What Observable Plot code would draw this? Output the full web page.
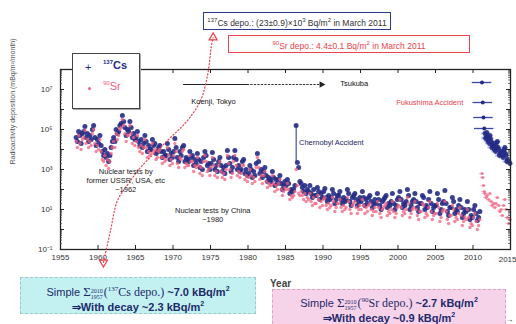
<!DOCTYPE html>
<html><head><meta charset="utf-8">
<script src="https://cdn.jsdelivr.net/npm/d3@7"></script>
<script src="https://cdn.jsdelivr.net/npm/@observablehq/plot@0.6"></script>
<style>
body{margin:0;background:#fff;}
#wrap{position:relative;width:516px;height:324px;overflow:hidden;font-family:Arial,"Liberation Sans",sans-serif;}
#wrap svg{position:absolute;left:0;top:0;}
.ov{position:absolute;box-sizing:border-box;white-space:nowrap;}
.lim{display:inline-block;font-size:6px;line-height:6px;vertical-align:-3px;margin-right:1px;font-family:"Liberation Serif",serif;text-align:left;}
.lim span{display:block;}
.sig{font-size:13px;line-height:13px;font-family:"Liberation Serif",serif;}
.ser{font-family:"Liberation Serif",serif;font-size:12px;}
.bold{font-weight:bold;}
.ln{height:15px;line-height:15px;}
</style></head><body><div id="wrap"></div><script>
// ---------- data (log10 of mBq/m2/month), bimonthly, 6 values per year ----------
const csStartYear = 1957;
const csLog = [
 [4.6,4.4,4.9,4.7,4.3,4.8],[4.9,5.15,4.6,4.8,4.4,4.7],[4.5,5.0,5.2,4.6,4.2,4.5],
 [4.3,4.7,4.2,3.9,3.7,4.0],[3.6,3.8,3.4,3.7,4.1,4.4],[4.6,4.4,5.0,4.8,4.9,5.2],
 [5.3,5.7,5.4,5.1,4.7,5.0],[4.9,5.4,5.1,4.6,4.8,4.5],[4.6,4.9,4.4,4.2,4.5,4.1],
 [4.3,4.7,4.4,3.9,4.2,4.0],[4.0,4.5,4.2,4.3,3.8,3.9],[4.1,4.2,3.9,3.6,3.9,3.7],
 [3.7,4.3,4.0,3.5,3.8,3.6],[3.9,4.55,4.1,3.6,3.4,3.9],[3.7,4.1,4.2,3.4,3.6,3.5],
 [3.4,3.9,3.6,3.7,3.2,3.5],[3.3,3.8,3.5,3.1,3.4,3.0],[3.6,3.9,3.7,3.2,3.3,3.0],
 [3.3,3.85,3.5,3.0,3.2,2.9],[3.4,3.6,3.2,2.9,3.1,2.8],[3.2,3.95,3.6,3.3,2.9,3.1],
 [3.6,3.95,3.5,3.0,3.2,2.9],[3.0,3.4,3.5,2.8,3.0,2.7],[2.8,3.2,3.0,2.6,2.9,2.7],
 [3.3,3.8,3.4,2.8,3.0,2.6],[2.9,3.1,2.7,2.4,2.6,2.5],[2.4,2.9,2.6,2.2,2.5,2.3],
 [2.5,2.7,2.3,2.0,2.2,2.4],[2.2,2.5,2.3,1.8,2.0,1.9],[2.0,2.2,5.2,3.35,3.1,2.4],
 [2.3,2.1,1.9,2.2,1.8,2.0],[1.9,2.2,1.8,1.6,2.0,1.7],[1.7,2.1,1.9,1.5,1.8,1.6],
 [1.9,2.05,1.6,1.4,1.7,1.5],[1.6,2.0,1.8,1.3,1.5,1.7],[1.7,1.9,1.5,1.3,1.6,1.4],
 [1.5,2.0,1.8,1.4,1.2,1.6],[1.7,1.8,1.5,1.2,1.4,1.6],[1.4,1.9,1.6,1.2,1.5,1.3],
 [1.6,1.7,1.4,1.1,1.3,1.5],[1.3,1.8,1.5,1.2,1.0,1.4],[1.5,1.6,1.7,1.1,1.3,1.2],
 [1.4,1.8,1.3,1.0,1.2,1.5],[1.6,1.9,1.5,1.1,1.3,1.2],[1.4,2.0,1.7,1.0,1.2,1.4],
 [1.5,1.8,1.4,1.1,0.9,1.3],[1.3,1.7,1.6,1.0,1.2,1.1],[1.5,1.9,1.3,0.9,1.1,1.2],
 [1.2,1.8,1.5,0.8,1.0,1.3],[1.4,1.95,1.3,0.9,0.7,1.1],[1.1,1.6,1.4,0.8,1.0,0.9],
 [1.2,1.5,1.1,0.6,0.8,1.0],[0.9,1.4,1.0,0.5,0.7,0.6],[1.0,1.2,0.8,0.45,0.6,0.9]
];
const srLog = [
 [4.4,4.1,4.7,4.3,4.0,4.5],[4.6,4.95,4.3,4.5,4.1,4.4],[4.2,4.8,5.0,4.3,3.9,4.2],
 [4.0,4.5,3.9,3.5,3.4,3.7],[3.2,3.5,3.05,3.4,3.8,4.1],[4.4,4.1,4.8,4.5,4.7,5.0],
 [5.1,5.5,5.2,4.8,4.4,4.7],[4.7,5.2,4.8,4.3,4.6,4.2],[4.4,4.7,4.1,3.9,4.2,3.8],
 [4.1,4.5,4.1,3.6,3.9,3.7],[3.8,4.3,3.9,4.0,3.5,3.6],[3.9,4.0,3.6,3.3,3.6,3.4],
 [3.5,4.1,3.7,3.2,3.5,3.3],[3.7,4.3,3.9,3.3,3.1,3.6],[3.5,3.9,4.0,3.1,3.3,3.2],
 [3.2,3.7,3.4,3.4,2.9,3.2],[3.1,3.6,3.2,2.8,3.1,2.7],[3.4,3.7,3.4,2.9,3.0,2.7],
 [3.1,3.6,3.2,2.7,2.9,2.6],[3.2,3.4,2.9,2.6,2.8,2.5],[3.0,3.7,3.3,3.0,2.6,2.8],
 [3.4,3.7,3.2,2.7,2.9,2.6],[2.8,3.2,3.2,2.5,2.7,2.4],[2.6,3.0,2.7,2.3,2.6,2.4],
 [3.1,3.6,3.1,2.5,2.7,2.3],[2.7,2.9,2.4,2.1,2.3,2.2],[2.2,2.7,2.3,1.9,2.2,2.0],
 [2.3,2.5,2.0,1.7,1.9,2.1],[2.0,2.3,2.0,1.5,1.7,1.6],[1.7,1.9,3.0,2.2,1.8,1.7],
 [1.9,1.7,1.5,1.8,1.4,1.6],[1.5,1.8,1.4,1.2,1.6,1.3],[1.3,1.7,1.5,1.1,1.4,1.2],
 [1.5,1.6,1.2,1.0,1.3,1.1],[1.2,1.6,1.4,0.9,1.1,1.3],[1.3,1.5,1.1,0.9,1.2,1.0],
 [1.1,1.6,1.4,1.0,0.8,1.2],[1.3,1.4,1.1,0.8,1.0,1.2],[1.0,1.5,1.2,0.8,1.1,0.9],
 [1.2,1.3,1.0,0.7,0.9,1.1],[0.9,1.4,1.1,0.8,0.6,1.0],[1.1,1.2,1.3,0.7,0.9,0.8],
 [1.0,1.4,0.9,0.6,0.8,1.1],[1.2,1.5,1.1,0.7,0.9,0.8],[1.0,1.6,1.3,0.6,0.8,1.0],
 [1.1,1.4,1.0,0.7,0.5,0.9],[0.9,1.3,1.2,0.6,0.8,0.7],[1.1,1.4,0.9,0.5,0.7,0.8],
 [0.8,1.3,1.1,0.4,0.6,0.9],[1.0,1.4,0.9,0.5,0.3,0.7],[0.7,1.2,1.0,0.4,0.6,0.5],
 [0.8,1.1,0.7,0.2,0.4,0.6],[0.5,1.0,0.6,0.1,0.3,0.2],[0.6,0.8,0.4,0.0,0.2,0.5]
];
// Fukushima era: [year, log10 value]
const csFukuTop = [[2011.2,7.35],[2011.3,6.35],[2011.4,5.6],[2011.5,5.05]];
const csFuku = [[2011.6,4.8],[2011.68,4.55],[2011.75,4.6],[2011.83,4.85],[2011.9,4.7],
 [2012.0,4.4],[2012.08,4.5],[2012.17,4.3],[2012.25,4.7],[2012.33,4.55],[2012.42,4.4],[2012.5,4.1],[2012.58,4.2],[2012.75,4.3],[2012.83,4.0],[2012.92,4.1],
 [2013.0,3.9],[2013.08,4.2],[2013.17,4.35],[2013.25,4.4],[2013.33,4.1],[2013.42,4.0],[2013.5,3.7],[2013.58,3.8],[2013.75,3.9],[2013.92,3.7],
 [2014.0,3.6],[2014.08,3.9],[2014.17,4.0],[2014.25,4.1],[2014.33,3.8],[2014.42,3.7],[2014.5,3.4],[2014.58,3.5],[2014.75,3.4],[2014.92,3.3]];
const srFuku = [[2011.2,2.8],[2011.3,2.6],[2011.4,2.2],[2011.5,1.9],
 [2011.6,1.8],[2011.75,1.6],[2011.9,1.7],
 [2012.08,1.5],[2012.25,1.8],[2012.42,1.4],[2012.58,1.2],[2012.75,1.3],[2012.92,1.1],
 [2013.08,1.3],[2013.25,1.6],[2013.42,1.2],[2013.58,0.9],[2013.75,1.0],[2013.92,0.7],
 [2014.08,1.2],[2014.25,1.5],[2014.42,1.0],[2014.58,0.6],[2014.75,0.3],[2014.92,0.5]];
// Chernobyl spike rule (year, low log, high log)
const chernobyl = [[1986.42, 3.35, 5.2]];

// ticks
const xTicks = [1955,1960,1965,1970,1975,1980,1985,1990,1995,2000,2005,2010,2015];
const yLabelTicks = [0.1, 10, 1e3, 1e5, 1e7];
const yLabelText = ["10\u207B\u00B9","10\u00B9","10\u00B3","10\u2075","10\u2077"];
const yMajorTicks = [0.1,1,10,100,1e3,1e4,1e5,1e6,1e7,1e8];
const yMinorMult = [2,3,4,5,6,7,8,9];

// annotations (data coordinates: year, log10 value)
const annoText = [
 {t:1963.7, l:2.45, s:"Nuclear tests by\nformer USSR, USA, etc\n~1962", a:"middle", c:"#222"},
 {t:1975.3, l:0.72, s:"Nuclear tests by China\n~1980", a:"middle", c:"#222"},
 {t:1986.8, l:4.35, s:"Chernobyl Accident", a:"start", c:"#1c2360"},
 {t:1975.4, l:6.4, s:"Koenji, Tokyo", a:"middle", c:"#111"},
 {t:1992.3, l:7.3, s:"Tsukuba", a:"start", c:"#111"},
 {t:2008.7, l:6.35, s:"Fukushima Accident", a:"end", c:"#e8434f"}
];
const koenjiLine = [[1971.4,7.25],[1979.9,7.25]];
const tsukubaLine = [[1979.9,7.25],[1989.8,7.25]];
const redCurve = [[1960.73,-1.65],[1961.67,-0.05],[1962.6,1.45],[1964.07,2.3],[1965.67,3.1],
 [1969.27,4.45],[1971.93,5.45],[1973.67,6.45],[1974.6,7.7],[1975.13,9.2],[1975.35,9.6]];

// ---------- build ----------
const expand = (rows, start) => rows.flatMap((r,i)=>r.map((v,j)=>({t:start+i+(j+0.5)/6, v:10**v})));
const cs = expand(csLog, csStartYear);
const sr = expand(srLog, csStartYear);
const toObj = a => a.map(([t,l])=>({t, v:10**l}));
const csF = toObj(csFuku), srF = toObj(srFuku), csTop = toObj(csFukuTop);
const minor = yMajorTicks.slice(0,-1).flatMap(d=>yMinorMult.map(m=>d*m));
const lastX = xTicks[xTicks.length-1];

const NAVY = "#252b84", PINK = "#f0607f";
const chart = Plot.plot({
  width: 516, height: 324,
  marginLeft: 60, marginRight: 6, marginTop: 69, marginBottom: 75,
  style: {fontFamily: "Arial, 'Liberation Sans', sans-serif", fontSize: "8px", background: "transparent", overflow: "visible"},
  x: {domain: [1955, 2015]},
  y: {type: "log", domain: [0.1, 1e8]},
  marks: [
    Plot.ruleY(csF, {y:"v", x1:d=>d.t-0.5, x2:d=>d.t+0.5, stroke:"#6c7bd0", strokeWidth:2, strokeOpacity:0.5}),
    Plot.ruleY(srF, {y:"v", x1:d=>d.t-0.35, x2:d=>d.t+0.35, stroke:"#f59ab0", strokeWidth:1.2, strokeOpacity:0.6}),
    Plot.ruleY(csTop, {y:"v", x1:d=>d.t-1.3, x2:d=>d.t+1.3, stroke:"#3a48a8", strokeWidth:1.3}),
    Plot.ruleX(chernobyl, {x:d=>d[0], y1:d=>10**d[1], y2:d=>10**d[2], stroke:NAVY, strokeWidth:1}),
    Plot.dot(cs, {x:"t", y:"v", r:2.5, fill:NAVY, fillOpacity:0.9}),
    Plot.dot(csF, {x:"t", y:"v", r:2.4, fill:NAVY, fillOpacity:0.9}),
    Plot.dot(csTop, {x:"t", y:"v", r:2, fill:NAVY}),
    Plot.dot(sr, {x:"t", y:"v", r:1.7, fill:PINK, fillOpacity:0.75}),
    Plot.dot(srF, {x:"t", y:"v", r:1.6, fill:PINK, fillOpacity:0.75}),
    Plot.frame({stroke:"#222", strokeWidth:1.3}),
    Plot.tickX(xTicks, {x:d=>d, insetTop:176, stroke:"#222"}),
    Plot.tickX(xTicks, {x:d=>d, insetBottom:176, stroke:"#222"}),
    Plot.tickY(yMajorTicks, {y:d=>d, insetRight:446, stroke:"#222"}),
    Plot.tickY(yMajorTicks, {y:d=>d, insetLeft:446, stroke:"#222"}),
    Plot.tickY(minor, {y:d=>d, insetRight:448, stroke:"#444", strokeWidth:0.7}),
    Plot.tickY(minor, {y:d=>d, insetLeft:448, stroke:"#444", strokeWidth:0.7}),
    Plot.axisX({ticks:xTicks.slice(0,-1), tickSize:0, tickPadding:5, tickFormat:d=>String(d), fill:"#333", fontSize:8}),
    Plot.text([lastX], {x:d=>d, frameAnchor:"bottom", dy:12, dx:6, textAnchor:"end", text:d=>String(d), fill:"#333", fontSize:8}),
    Plot.axisY({ticks:yLabelTicks, tickSize:0, tickPadding:8, tickFormat:d=>yLabelText[yLabelTicks.indexOf(d)], fill:"#333", fontSize:8, label:null}),
    Plot.text(["Radioactivity deposition (mBq/m\u00B2/month)"], {frameAnchor:"left", rotate:-90, dx:-48, dy:5, fontSize:7, fill:"#555"}),
    Plot.line(koenjiLine, {x:d=>d[0], y:d=>10**d[1], stroke:"#222", strokeWidth:1.2}),
    Plot.line(tsukubaLine, {x:d=>d[0], y:d=>10**d[1], stroke:"#333", strokeWidth:1, strokeDasharray:"1.5,2"}),
    Plot.dot([tsukubaLine[1]], {x:d=>d[0], y:d=>10**d[1], symbol:"triangle", rotate:90, r:2.5, fill:"#222"}),
    Plot.line(redCurve, {x:d=>d[0], y:d=>10**d[1], curve:"catmull-rom", stroke:"#e8434f", strokeWidth:1.2, strokeDasharray:"1.2,2.2"}),
    Plot.dot([redCurve[redCurve.length-1]], {x:d=>d[0], y:d=>10**d[1], symbol:"triangle", r:3, fill:"none", stroke:"#e8434f", strokeWidth:1.2}),
    Plot.dot([redCurve[0]], {x:d=>d[0], y:d=>10**d[1], symbol:"triangle", rotate:180, r:3, fill:"none", stroke:"#e8434f", strokeWidth:1.2}),
    ...["start","middle","end"].map(a => Plot.text(annoText.filter(d=>d.a===a), {x:"t", y:d=>10**d.l, text:"s", textAnchor:a, fill:"c", fontSize:7.5, lineHeight:1.2}))
  ]
});
const wrap = document.getElementById("wrap");
wrap.appendChild(chart);

const ov = (html, css) => { const d = document.createElement("div"); d.className = "ov"; d.style.cssText = css; d.innerHTML = html; wrap.appendChild(d); };
ov("<sup style='font-size:6px'>137</sup>Cs depo.: (23\u00B10.9)\u00D710<sup style='font-size:6px'>3</sup> Bq/m<sup style='font-size:6px'>2</sup> in March 2011",
   "left:203px;top:12px;width:188px;height:18px;border:1.5px solid #2b3990;color:#333;font-size:8.5px;line-height:15px;text-align:center;background:#fff;");
ov("<sup style='font-size:6px'>90</sup>Sr depo.: 4.4\u00B10.1 Bq/m<sup style='font-size:6px'>2</sup> in March 2011",
   "left:228px;top:35px;width:242px;height:18px;border:1.5px solid #e8434f;color:#e8434f;font-size:8.5px;line-height:15px;text-align:center;background:#fff;");
ov("<div style='position:absolute;left:12px;top:7px;color:#252b84;font-size:11px'>+</div>"+
   "<div style='position:absolute;left:30px;top:5px;color:#252b84;font-size:11px;font-weight:bold'><sup style='font-size:6px'>137</sup>Cs</div>"+
   "<div style='position:absolute;left:15px;top:33px;width:3px;height:3px;border-radius:2px;background:#f0607f'></div>"+
   "<div style='position:absolute;left:30px;top:26px;color:#f0607f;font-size:11px'><sup style='font-size:6px'>90</sup>Sr</div>",
   "left:72px;top:53px;width:68px;height:56px;border:1.5px solid #444;background:#fff;box-shadow:1px 1px 0 #aaa;");
ov("Year", "left:270px;top:278px;font-size:10px;font-weight:bold;color:#444;");
const sumHtml = (iso, el, s, d) =>
  "<div class='ln'>Simple <span class='sig'>\u03A3</span><span class='lim'><span>2010</span><span>1957</span></span>"+
  "<span class='ser'>(<sup style='font-size:7px'>"+iso+"</sup>"+el+" depo.)</span> <span class='bold'>~"+s+" kBq/m<sup style='font-size:7px'>2</sup></span></div>"+
  "<div class='ln'><span class='bold'>\u21D2With decay ~"+d+" kBq/m<sup style='font-size:7px'>2</sup></span></div>";
ov(sumHtml("137","Cs","7.0","2.3"), "left:20px;top:277px;width:236px;height:37px;background:#c3f1f1;border:1px dashed #9cc8c8;color:#1c2a6b;font-size:11px;text-align:center;padding-top:3px;");
ov(sumHtml("90","Sr","2.7","0.9"), "left:272px;top:289px;width:234px;height:40px;background:#f7d3ea;border:1px dashed #e0a0c8;color:#1c2a6b;font-size:11px;text-align:center;padding-top:2px;");
</script></body></html>
